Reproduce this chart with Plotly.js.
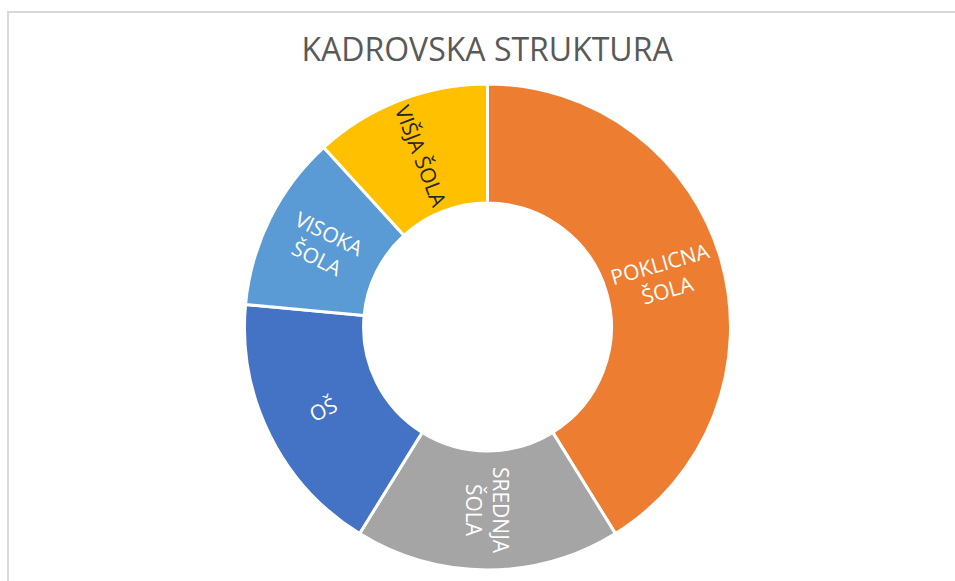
<!DOCTYPE html>
<html>
<head>
<meta charset="utf-8">
<script src="https://cdn.plot.ly/plotly-3.0.1.min.js"></script>
<style>
html,body{margin:0;padding:0;background:#fff;}
#chart{width:955px;height:581px;position:relative;}
#frame{position:absolute;left:7px;top:11px;width:1000px;height:1000px;border-left:2px solid #d9d9d9;border-top:2px solid #d9d9d9;pointer-events:none;}
</style>
</head>
<body>
<div id="chart"></div>
<div id="frame"></div>
<script>
const categories = ['POKLICNA ŠOLA', 'SREDNJA ŠOLA', 'OŠ', 'VISOKA ŠOLA', 'VIŠJA ŠOLA'];
const displayLabels = ['POKLICNA<br>ŠOLA', 'SREDNJA<br>ŠOLA', 'OŠ', 'VISOKA<br>ŠOLA', 'VIŠJA ŠOLA'];
const values = [7, 3, 3, 2, 2];
const colors = ['#ED7D31', '#A5A5A5', '#4472C4', '#5B9BD5', '#FFC000'];
const textColors = ['#ffffff', '#ffffff', '#ffffff', '#ffffff', '#262626'];

const W = 955, H = 581;
const margin = {l: 20, r: 0, t: 84, b: 11};
const hole = 0.51;

const trace = {
  type: 'pie',
  labels: categories,
  values: values,
  textinfo: 'none',
  hole: hole,
  sort: false,
  direction: 'clockwise',
  rotation: 0,
  marker: {colors: colors, line: {color: '#ffffff', width: 3}},
  showlegend: false,
  hoverinfo: 'label+value+percent'
};

// Excel-style radial labels, placed from the slice angles derived from values
const plotW = W - margin.l - margin.r, plotH = H - margin.t - margin.b;
const R = Math.min(plotW, plotH) / 2;
const rMid = R * (1 + hole) / 2;
const total = values.reduce((a, b) => a + b, 0);
let cum = 0;
const annotations = values.map((v, i) => {
  const mid = (cum + v / 2) / total * 360;
  cum += v;
  const rad = mid * Math.PI / 180;
  const dx = rMid * Math.sin(rad), dy = rMid * Math.cos(rad);
  let ang = mid - 90;
  while (ang > 90) ang -= 180;
  while (ang <= -90) ang += 180;
  return {
    xref: 'paper', yref: 'paper',
    x: 0.5 + dx / plotW, y: 0.5 + dy / plotH,
    xanchor: 'center', yanchor: 'middle',
    text: displayLabels[i], showarrow: false, textangle: ang,
    font: {family: 'Open Sans, sans-serif', size: 21, color: textColors[i]}
  };
});

const layout = {
  width: W,
  height: H,
  margin: margin,
  paper_bgcolor: '#ffffff',
  title: {
    text: 'KADROVSKA STRUKTURA',
    font: {family: 'Open Sans, sans-serif', size: 32, color: '#595959'},
    x: 0.51, xanchor: 'center',
    y: 0.915, yanchor: 'middle', yref: 'container'
  },
  annotations: annotations,
  showlegend: false
};

Plotly.newPlot('chart', [trace], layout, {displayModeBar: false, staticPlot: true});
</script>
</body>
</html>
